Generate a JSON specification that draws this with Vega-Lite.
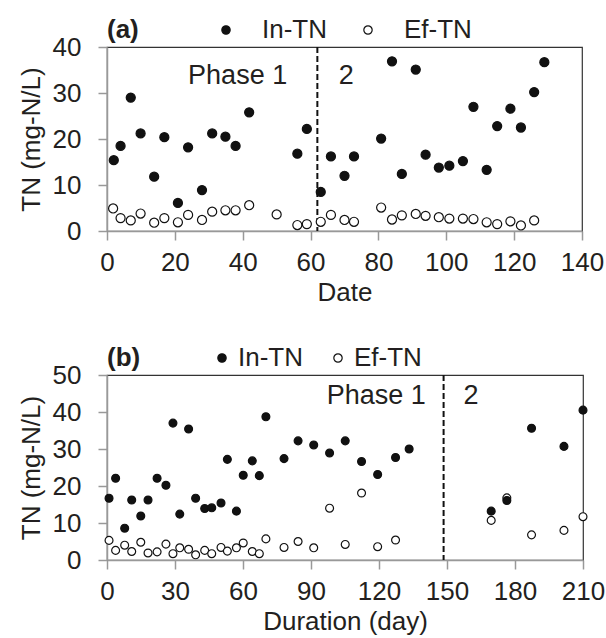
{
  "$schema": "https://vega.github.io/schema/vega-lite/v6.json",
  "padding": {"left": 17, "top": 16, "right": 5, "bottom": 3},
  "background": "white",
  "config": {
    "font": "Liberation Sans",
    "view": {"stroke": "#333", "strokeWidth": 1.2},
    "axis": {
      "grid": false, "domainColor": "#999", "domainWidth": 1.5,
      "tickColor": "#999", "tickWidth": 1.5, "tickSize": 9,
      "labelFontSize": 26, "labelColor": "#231f20", "labelFont": "Liberation Sans",
      "titleFontSize": 26, "titleFontWeight": "normal", "titleColor": "#231f20", "titleFont": "Liberation Sans",
      "labelFlush": false, "labelOverlap": false, "labelBound": false
    },
    "axisX": {"labelPadding": 9, "titlePadding": 4},
    "axisY": {"labelPadding": 17, "titlePadding": 8},
    "legend": {
      "orient": "top", "direction": "horizontal", "titleOrient": "left",
      "titleFontSize": 26, "titleFontWeight": "bold", "titleColor": "#231f20", "titleFont": "Liberation Sans",
      "labelFontSize": 26, "labelColor": "#231f20", "labelFont": "Liberation Sans",
      "symbolType": "circle", "symbolSize": 70, "symbolStrokeColor": "#111", "symbolStrokeWidth": 1.2,
      "offset": 4, "padding": 0
    }
  },
  "datasets": {
    "a_tn": [
      {"date": 1.8, "tn": 4.9, "series": "Ef-TN"}, {"date": 4.0, "tn": 2.8, "series": "Ef-TN"}, {"date": 7.0, "tn": 2.3, "series": "Ef-TN"},
      {"date": 9.9, "tn": 3.8, "series": "Ef-TN"}, {"date": 13.9, "tn": 1.8, "series": "Ef-TN"}, {"date": 16.9, "tn": 2.8, "series": "Ef-TN"},
      {"date": 20.9, "tn": 1.9, "series": "Ef-TN"}, {"date": 23.9, "tn": 3.5, "series": "Ef-TN"}, {"date": 28.0, "tn": 2.4, "series": "Ef-TN"},
      {"date": 31.0, "tn": 4.2, "series": "Ef-TN"}, {"date": 34.9, "tn": 4.5, "series": "Ef-TN"}, {"date": 37.9, "tn": 4.5, "series": "Ef-TN"},
      {"date": 41.9, "tn": 5.6, "series": "Ef-TN"}, {"date": 50.0, "tn": 3.6, "series": "Ef-TN"}, {"date": 56.1, "tn": 1.3, "series": "Ef-TN"},
      {"date": 58.9, "tn": 1.5, "series": "Ef-TN"}, {"date": 63.0, "tn": 2.0, "series": "Ef-TN"}, {"date": 66.0, "tn": 3.5, "series": "Ef-TN"},
      {"date": 70.0, "tn": 2.4, "series": "Ef-TN"}, {"date": 72.8, "tn": 2.0, "series": "Ef-TN"}, {"date": 80.8, "tn": 5.1, "series": "Ef-TN"},
      {"date": 84.0, "tn": 2.5, "series": "Ef-TN"}, {"date": 86.9, "tn": 3.4, "series": "Ef-TN"}, {"date": 91.0, "tn": 3.7, "series": "Ef-TN"},
      {"date": 93.9, "tn": 3.3, "series": "Ef-TN"}, {"date": 97.8, "tn": 3.0, "series": "Ef-TN"}, {"date": 100.9, "tn": 2.7, "series": "Ef-TN"},
      {"date": 104.9, "tn": 2.7, "series": "Ef-TN"}, {"date": 108.0, "tn": 2.6, "series": "Ef-TN"}, {"date": 111.9, "tn": 1.9, "series": "Ef-TN"},
      {"date": 115.0, "tn": 1.5, "series": "Ef-TN"}, {"date": 118.9, "tn": 2.1, "series": "Ef-TN"}, {"date": 122.0, "tn": 1.2, "series": "Ef-TN"},
      {"date": 125.9, "tn": 2.3, "series": "Ef-TN"},
      {"date": 2.0, "tn": 15.4, "series": "In-TN"}, {"date": 4.0, "tn": 18.5, "series": "In-TN"}, {"date": 7.0, "tn": 29.0, "series": "In-TN"},
      {"date": 9.9, "tn": 21.2, "series": "In-TN"}, {"date": 13.9, "tn": 11.8, "series": "In-TN"}, {"date": 16.9, "tn": 20.4, "series": "In-TN"},
      {"date": 20.9, "tn": 6.1, "series": "In-TN"}, {"date": 23.9, "tn": 18.2, "series": "In-TN"}, {"date": 28.0, "tn": 8.9, "series": "In-TN"},
      {"date": 31.0, "tn": 21.2, "series": "In-TN"}, {"date": 34.9, "tn": 20.5, "series": "In-TN"}, {"date": 37.9, "tn": 18.5, "series": "In-TN"},
      {"date": 41.9, "tn": 25.8, "series": "In-TN"}, {"date": 56.1, "tn": 16.8, "series": "In-TN"}, {"date": 58.9, "tn": 22.2, "series": "In-TN"},
      {"date": 63.0, "tn": 8.5, "series": "In-TN"}, {"date": 66.0, "tn": 16.2, "series": "In-TN"}, {"date": 70.0, "tn": 12.0, "series": "In-TN"},
      {"date": 72.8, "tn": 16.2, "series": "In-TN"}, {"date": 80.8, "tn": 20.1, "series": "In-TN"}, {"date": 84.0, "tn": 36.9, "series": "In-TN"},
      {"date": 86.9, "tn": 12.4, "series": "In-TN"}, {"date": 91.0, "tn": 35.1, "series": "In-TN"}, {"date": 93.9, "tn": 16.6, "series": "In-TN"},
      {"date": 97.8, "tn": 13.8, "series": "In-TN"}, {"date": 100.9, "tn": 14.2, "series": "In-TN"}, {"date": 104.9, "tn": 15.2, "series": "In-TN"},
      {"date": 108.0, "tn": 27.0, "series": "In-TN"}, {"date": 111.9, "tn": 13.3, "series": "In-TN"}, {"date": 115.0, "tn": 22.8, "series": "In-TN"},
      {"date": 118.9, "tn": 26.6, "series": "In-TN"}, {"date": 122.0, "tn": 22.5, "series": "In-TN"}, {"date": 125.9, "tn": 30.2, "series": "In-TN"},
      {"date": 128.9, "tn": 36.7, "series": "In-TN"}
    ],
    "a_phase": [{"date": 62}],
    "a_text": [{"date": 38.5, "tn": 33.8, "label": "Phase 1"}, {"date": 70.5, "tn": 33.8, "label": "2"}],
    "b_tn": [
      {"day": 0.9, "tn": 5.3, "series": "Ef-TN"}, {"day": 3.8, "tn": 2.6, "series": "Ef-TN"}, {"day": 7.8, "tn": 4.0, "series": "Ef-TN"},
      {"day": 10.9, "tn": 2.3, "series": "Ef-TN"}, {"day": 14.9, "tn": 4.8, "series": "Ef-TN"}, {"day": 18.1, "tn": 1.9, "series": "Ef-TN"},
      {"day": 22.1, "tn": 2.2, "series": "Ef-TN"}, {"day": 26.0, "tn": 4.3, "series": "Ef-TN"}, {"day": 29.1, "tn": 1.7, "series": "Ef-TN"},
      {"day": 32.1, "tn": 3.3, "series": "Ef-TN"}, {"day": 36.0, "tn": 2.9, "series": "Ef-TN"}, {"day": 39.1, "tn": 1.4, "series": "Ef-TN"},
      {"day": 43.1, "tn": 2.6, "series": "Ef-TN"}, {"day": 46.2, "tn": 1.7, "series": "Ef-TN"}, {"day": 50.3, "tn": 3.4, "series": "Ef-TN"},
      {"day": 53.1, "tn": 2.4, "series": "Ef-TN"}, {"day": 57.1, "tn": 3.3, "series": "Ef-TN"}, {"day": 60.1, "tn": 4.6, "series": "Ef-TN"},
      {"day": 64.1, "tn": 2.3, "series": "Ef-TN"}, {"day": 67.2, "tn": 1.7, "series": "Ef-TN"}, {"day": 70.1, "tn": 5.7, "series": "Ef-TN"},
      {"day": 78.1, "tn": 3.4, "series": "Ef-TN"}, {"day": 84.3, "tn": 5.0, "series": "Ef-TN"}, {"day": 91.2, "tn": 3.3, "series": "Ef-TN"},
      {"day": 98.2, "tn": 14.0, "series": "Ef-TN"}, {"day": 105.1, "tn": 4.2, "series": "Ef-TN"}, {"day": 112.3, "tn": 18.1, "series": "Ef-TN"},
      {"day": 119.4, "tn": 3.6, "series": "Ef-TN"}, {"day": 127.3, "tn": 5.4, "series": "Ef-TN"}, {"day": 169.5, "tn": 10.7, "series": "Ef-TN"},
      {"day": 176.4, "tn": 16.8, "series": "Ef-TN"}, {"day": 187.3, "tn": 6.8, "series": "Ef-TN"}, {"day": 201.6, "tn": 8.0, "series": "Ef-TN"},
      {"day": 210.0, "tn": 11.7, "series": "Ef-TN"},
      {"day": 0.9, "tn": 16.7, "series": "In-TN"}, {"day": 3.8, "tn": 22.1, "series": "In-TN"}, {"day": 7.8, "tn": 8.6, "series": "In-TN"},
      {"day": 10.9, "tn": 16.2, "series": "In-TN"}, {"day": 14.9, "tn": 11.9, "series": "In-TN"}, {"day": 18.1, "tn": 16.2, "series": "In-TN"},
      {"day": 22.1, "tn": 22.1, "series": "In-TN"}, {"day": 26.0, "tn": 20.2, "series": "In-TN"}, {"day": 29.1, "tn": 37.0, "series": "In-TN"},
      {"day": 32.1, "tn": 12.4, "series": "In-TN"}, {"day": 36.0, "tn": 35.4, "series": "In-TN"}, {"day": 39.1, "tn": 16.7, "series": "In-TN"},
      {"day": 43.1, "tn": 13.9, "series": "In-TN"}, {"day": 46.2, "tn": 14.1, "series": "In-TN"}, {"day": 50.3, "tn": 15.4, "series": "In-TN"},
      {"day": 53.1, "tn": 27.2, "series": "In-TN"}, {"day": 57.1, "tn": 13.2, "series": "In-TN"}, {"day": 60.1, "tn": 22.9, "series": "In-TN"},
      {"day": 64.1, "tn": 26.8, "series": "In-TN"}, {"day": 67.2, "tn": 22.8, "series": "In-TN"}, {"day": 70.1, "tn": 38.7, "series": "In-TN"},
      {"day": 78.1, "tn": 27.4, "series": "In-TN"}, {"day": 84.3, "tn": 32.2, "series": "In-TN"}, {"day": 91.2, "tn": 31.1, "series": "In-TN"},
      {"day": 98.2, "tn": 28.9, "series": "In-TN"}, {"day": 105.1, "tn": 32.2, "series": "In-TN"}, {"day": 112.3, "tn": 26.6, "series": "In-TN"},
      {"day": 119.4, "tn": 23.1, "series": "In-TN"}, {"day": 127.3, "tn": 27.7, "series": "In-TN"}, {"day": 133.3, "tn": 30.0, "series": "In-TN"},
      {"day": 169.5, "tn": 13.2, "series": "In-TN"}, {"day": 176.4, "tn": 16.1, "series": "In-TN"}, {"day": 187.3, "tn": 35.6, "series": "In-TN"},
      {"day": 201.6, "tn": 30.7, "series": "In-TN"}, {"day": 210.0, "tn": 40.5, "series": "In-TN"}
    ],
    "b_phase": [{"day": 148.5}],
    "b_text": [{"day": 118.8, "tn": 44.4, "label": "Phase 1"}, {"day": 160.6, "tn": 44.4, "label": "2"}]
  },
  "vconcat": [
    {
      "width": 475,
      "height": 184,
      "layer": [
        {
          "data": {"name": "a_phase"},
          "mark": {"type": "rule", "strokeDash": [6, 3], "strokeWidth": 2, "color": "#111"},
          "encoding": {
            "x": {"field": "date", "type": "quantitative", "title": "Date", "scale": {"domain": [0, 140], "nice": false},
                  "axis": {"values": [0, 20, 40, 60, 80, 100, 120, 140], "labelOverlap": false}}
          }
        },
        {
          "data": {"name": "a_tn"},
          "mark": {"type": "point", "shape": "circle", "filled": true, "stroke": "#111", "strokeWidth": 1.2, "size": 82, "opacity": 1},
          "encoding": {
            "x": {"field": "date", "type": "quantitative", "title": "Date", "scale": {"domain": [0, 140], "nice": false},
                  "axis": {"values": [0, 20, 40, 60, 80, 100, 120, 140], "labelOverlap": false}},
            "y": {"field": "tn", "type": "quantitative", "title": "TN (mg-N/L)", "scale": {"domain": [0, 40], "nice": false},
                  "axis": {"values": [0, 10, 20, 30, 40], "labelOverlap": false}},
            "fill": {"field": "series", "type": "nominal", "scale": {"domain": ["In-TN", "Ef-TN"], "range": ["#111111", "#ffffff"]},
                     "legend": {"title": "(a)", "titlePadding": 74, "labelOffset": 23, "columnPadding": 28}}
          }
        },
        {
          "data": {"name": "a_text"},
          "mark": {"type": "text", "fontSize": 27, "color": "#231f20", "font": "Liberation Sans"},
          "encoding": {
            "x": {"field": "date", "type": "quantitative", "title": "Date"},
            "y": {"field": "tn", "type": "quantitative", "title": "TN (mg-N/L)"},
            "text": {"field": "label"}
          }
        }
      ]
    },
    {
      "width": 476,
      "height": 185,
      "layer": [
        {
          "data": {"name": "b_phase"},
          "mark": {"type": "rule", "strokeDash": [6, 3], "strokeWidth": 2, "color": "#111"},
          "encoding": {
            "x": {"field": "day", "type": "quantitative", "title": "Duration (day)", "scale": {"domain": [0, 210], "nice": false},
                  "axis": {"values": [0, 30, 60, 90, 120, 150, 180, 210], "labelOverlap": false}}
          }
        },
        {
          "data": {"name": "b_tn"},
          "mark": {"type": "point", "shape": "circle", "filled": true, "stroke": "#111", "strokeWidth": 1.2, "size": 62, "opacity": 1},
          "encoding": {
            "x": {"field": "day", "type": "quantitative", "title": "Duration (day)", "scale": {"domain": [0, 210], "nice": false},
                  "axis": {"values": [0, 30, 60, 90, 120, 150, 180, 210], "labelOverlap": false}},
            "y": {"field": "tn", "type": "quantitative", "title": "TN (mg-N/L)", "scale": {"domain": [0, 50], "nice": false},
                  "axis": {"values": [0, 10, 20, 30, 40, 50], "labelOverlap": false}},
            "fill": {"field": "series", "type": "nominal", "scale": {"domain": ["In-TN", "Ef-TN"], "range": ["#111111", "#ffffff"]},
                     "legend": {"title": "(b)", "titlePadding": 68, "labelOffset": 3, "columnPadding": 22}}
          }
        },
        {
          "data": {"name": "b_text"},
          "mark": {"type": "text", "fontSize": 27, "color": "#231f20", "font": "Liberation Sans"},
          "encoding": {
            "x": {"field": "day", "type": "quantitative", "title": "Duration (day)"},
            "y": {"field": "tn", "type": "quantitative", "title": "TN (mg-N/L)", "axis": {"values": [0, 10, 20, 30, 40, 50], "labelOverlap": false}},
            "text": {"field": "label"}
          }
        }
      ]
    }
  ],
  "spacing": 38,
  "resolve": {"scale": {"fill": "independent", "x": "independent", "y": "independent"}, "legend": {"fill": "independent"}}
}
